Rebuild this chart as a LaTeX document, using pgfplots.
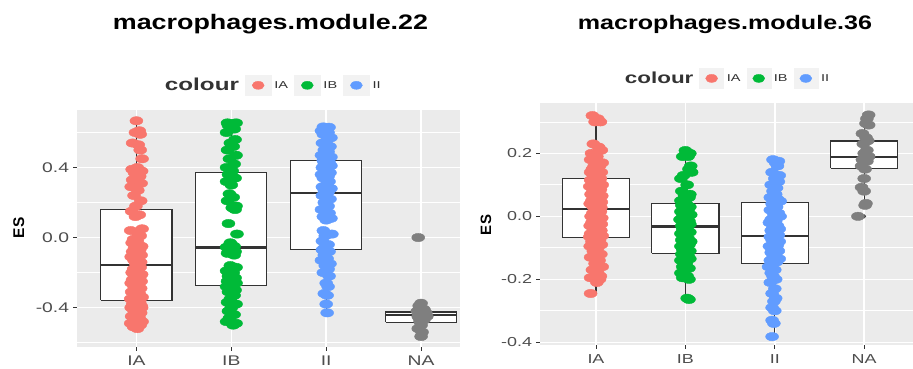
\documentclass[border=0pt]{standalone}
\usepackage{fontspec}
\setmainfont{Liberation Sans}
\newfontfamily\fT[FakeStretch=1.28]{Liberation Sans}
\newfontfamily\fK[FakeStretch=1.38]{Liberation Sans}
\newfontfamily\fL[FakeStretch=1.40]{Liberation Sans}
\newfontfamily\fS[FakeStretch=1.45]{Liberation Sans}
\usepackage{pgfplots}
\pgfplotsset{compat=1.18}
\definecolor{cIA}{HTML}{F8766D}
\definecolor{cIB}{HTML}{00BA38}
\definecolor{cII}{HTML}{619CFF}
\definecolor{cNA}{HTML}{7F7F7F}
\definecolor{cPanel}{HTML}{EBEBEB}
\definecolor{cBox}{HTML}{333333}
\definecolor{cTickT}{HTML}{4D4D4D}
\definecolor{cKey}{HTML}{F2F2F2}
\pgfplotsset{
  gg/.style={scale only axis, axis background/.style={fill=cPanel},
    axis line style={draw=none}, tick align=outside, tick pos=left,
    major tick length=3.7bp, minor tick length=0pt,
    tick style={draw=cBox, line width=0.9bp},
    xmajorgrids, ymajorgrids, yminorgrids,
    major grid style={draw=white, line width=1.5bp},
    minor grid style={draw=white, line width=0.75bp},
    xtick={1,2,3,4}, xticklabels={IA,IB,II,NA},
    tick label style={text=cTickT, inner sep=0pt},
    xticklabel shift=5.2bp, yticklabel shift=4bp,
    legend columns=4,
    legend style={draw=none, fill=none, inner sep=0pt, outer sep=0pt, anchor=west,
      nodes={inner sep=0pt, text=cBox},
      /tikz/every odd column/.append style={column sep=3bp},
      /tikz/every even column/.append style={column sep=6bp}}},
  wsk/.style={forget plot, draw=cBox, line width=1.2bp, mark=none},
  bx/.style={forget plot, draw=cBox, fill=white, line width=1.2bp, mark=none},
  med/.style={forget plot, draw=cBox, line width=2.2bp, mark=none},
  outl/.style={forget plot, only marks, mark=*, mark size=1.7bp, color=cBox},
  pts/.style={only marks, mark=*, mark size=4.2bp, color=#1,
    mark options={xscale=1.55, draw=#1, fill=#1}},
  lkey/.style 2 args={legend image code/.code={
    \fill[cKey] (0bp,-10bp) rectangle ({2*#2},10bp);
    \fill[#1] (#2,0bp) ellipse [x radius=6bp, y radius=4bp];}},
}
\begin{document}
\begin{tikzpicture}
\useasboundingbox (0,0) rectangle (913bp,369bp);
% ---------------- left panel ----------------
\begin{axis}[gg, at={(77bp,22bp)}, anchor=south west,
  width=383bp, height=236.7bp,
  xmin=0.374, xmax=4.41, ymin=-0.625, ymax=0.727,
  ytick={-0.4,0,0.4}, yticklabels={-0.4,0.0,0.4},
  minor ytick={-0.6,-0.2,0.2,0.6},
  tick label style={font=\fK\fontsize{14bp}{16bp}\selectfont},
  legend style={at={(0.2219,1.1055)}, font=\fS\fontsize{10bp}{12bp}\selectfont}]
\addlegendimage{empty legend}
\addlegendentry{{\fL\bfseries\fontsize{17.3bp}{20bp}\selectfont colour}\hspace{6bp}}
% boxplots: whisker, box, median
\addplot[wsk] coordinates {(1,-0.52) (1,0.666)};
\addplot[bx] coordinates {(0.625,-0.358) (1.375,-0.358) (1.375,0.16) (0.625,0.16) (0.625,-0.358)};
\addplot[med] coordinates {(0.625,-0.158) (1.375,-0.158)};
\addplot[wsk] coordinates {(2,-0.50) (2,0.655)};
\addplot[bx] coordinates {(1.625,-0.274) (2.375,-0.274) (2.375,0.371) (1.625,0.371) (1.625,-0.274)};
\addplot[med] coordinates {(1.625,-0.057) (2.375,-0.057)};
\addplot[wsk] coordinates {(3,-0.431) (3,0.632)};
\addplot[bx] coordinates {(2.625,-0.069) (3.375,-0.069) (3.375,0.438) (2.625,0.438) (2.625,-0.069)};
\addplot[med] coordinates {(2.625,0.255) (3.375,0.255)};
\addplot[wsk] coordinates {(4,-0.565) (4,-0.375)};
\addplot[bx] coordinates {(3.625,-0.484) (4.375,-0.484) (4.375,-0.425) (3.625,-0.425) (3.625,-0.484)};
\addplot[med] coordinates {(3.625,-0.44) (4.375,-0.44)};
\addplot[outl] coordinates {(4,0.0)};
\addplot[pts=cIA, lkey={cIA}{13bp}] table {
x y
1.00 0.667
1.03 0.61
0.99 0.60
1.04 0.59
0.96 0.54
1.02 0.53
1.04 0.50
1.06 0.45
1.01 0.40
0.955 0.39
1.055 0.38
0.98 0.37
1.035 0.35
0.96 0.33
1.05 0.31
0.945 0.29
1.015 0.27
0.975 0.24
1.045 0.21
0.995 0.18
0.95 0.15
1.03 0.13
0.99 0.12
1.06 0.05
0.94 0.04
1.02 0.02
1.04 0.01
0.97 -0.01
1.01 -0.02
0.955 -0.03
1.055 -0.05
0.98 -0.06
1.035 -0.07
0.96 -0.08
1.05 -0.10
0.945 -0.11
1.015 -0.12
0.975 -0.13
1.045 -0.14
0.995 -0.15
1.02 -0.16
1.04 -0.17
0.97 -0.18
1.01 -0.19
0.955 -0.20
1.055 -0.21
0.98 -0.22
1.035 -0.23
0.96 -0.24
1.05 -0.25
0.945 -0.26
1.015 -0.27
0.975 -0.28
1.045 -0.29
0.995 -0.30
0.95 -0.31
1.03 -0.32
0.99 -0.33
1.06 -0.34
0.94 -0.35
0.98 -0.36
1.035 -0.37
0.96 -0.38
1.05 -0.39
0.945 -0.40
1.015 -0.41
0.975 -0.42
1.045 -0.43
0.995 -0.44
0.95 -0.45
1.03 -0.46
0.99 -0.47
1.06 -0.48
0.94 -0.49
1.02 -0.50
1.04 -0.50
0.97 -0.51
1.01 -0.52
0.955 -0.45
1.055 -0.40
};
\addlegendentry{IA}
\addplot[pts=cIB, lkey={cIB}{13bp}] table {
x y
1.96 0.655
2.05 0.655
2.01 0.65
1.97 0.64
2.03 0.62
1.95 0.60
2.04 0.56
1.99 0.54
2.02 0.52
1.96 0.50
2.05 0.47
1.98 0.45
2.03 0.42
1.95 0.40
2.01 0.38
1.97 0.36
2.04 0.34
1.95 0.32
2.00 0.30
1.98 0.25
2.02 0.23
1.96 0.21
2.05 0.18
2.01 0.17
2.04 0.16
1.97 0.08
2.06 0.02
1.99 -0.03
2.03 -0.05
1.95 -0.055
1.98 -0.06
2.04 -0.08
1.96 -0.09
2.03 -0.10
1.99 -0.16
2.05 -0.17
1.95 -0.19
2.02 -0.20
1.97 -0.22
2.04 -0.23
2.00 -0.24
1.96 -0.25
2.05 -0.26
1.98 -0.27
2.02 -0.27
1.95 -0.28
2.01 -0.29
2.04 -0.30
1.97 -0.31
2.03 -0.33
1.99 -0.35
1.96 -0.37
2.05 -0.38
2.00 -0.40
1.97 -0.42
2.03 -0.44
1.98 -0.46
1.95 -0.48
2.05 -0.49
2.02 -0.50
};
\addlegendentry{IB}
\addplot[pts=cII, lkey={cII}{13bp}] table {
x y
2.97 0.632
3.03 0.63
2.99 0.62
2.95 0.61
3.02 0.60
2.97 0.59
3.05 0.57
3.00 0.55
2.96 0.54
3.04 0.52
2.98 0.50
3.02 0.49
2.95 0.47
3.05 0.46
3.00 0.45
2.97 0.44
3.03 0.43
2.98 0.42
3.05 0.41
2.96 0.40
3.01 0.39
2.99 0.38
3.04 0.37
2.95 0.36
3.02 0.35
2.97 0.34
3.03 0.32
3.00 0.30
2.96 0.29
3.05 0.28
2.98 0.27
3.02 0.26
3.00 0.25
2.96 0.24
3.04 0.22
2.98 0.20
3.02 0.18
2.95 0.16
3.03 0.14
2.97 0.12
3.05 0.11
3.00 0.10
2.97 0.04
3.06 0.02
2.99 0.01
2.96 -0.02
3.02 -0.04
2.98 -0.06
2.96 -0.07
3.03 -0.08
2.98 -0.10
3.01 -0.12
2.95 -0.13
3.04 -0.15
2.99 -0.16
3.02 -0.18
2.97 -0.20
3.03 -0.22
3.00 -0.26
3.02 -0.28
2.98 -0.32
3.01 -0.33
3.00 -0.38
3.01 -0.43
};
\addlegendentry{II}
\addplot[pts=cNA, forget plot] table {
x y
3.97 0.0
4.00 -0.375
3.98 -0.39
4.03 -0.41
3.96 -0.42
4.02 -0.43
4.05 -0.43
3.99 -0.44
4.04 -0.44
3.97 -0.45
4.06 -0.45
4.01 -0.46
3.98 -0.46
4.03 -0.47
3.99 -0.48
4.00 -0.50
3.97 -0.52
4.01 -0.54
4.00 -0.565
};
\end{axis}
% ---------------- right panel ----------------
\begin{axis}[gg, at={(540bp,24bp)}, anchor=south west,
  width=373bp, height=241.7bp,
  xmin=0.374, xmax=4.546, ymin=-0.4086, ymax=0.359,
  ytick={-0.4,-0.2,0,0.2}, yticklabels={-0.4,-0.2,0.0,0.2},
  minor ytick={-0.3,-0.1,0.1,0.3},
  tick label style={font=\fK\fontsize{13bp}{15bp}\selectfont},
  legend style={at={(0.2198,1.103)}, font=\fS\fontsize{10bp}{12bp}\selectfont}]
\addlegendimage{empty legend}
\addlegendentry{{\fL\bfseries\fontsize{16bp}{19bp}\selectfont colour}\hspace{3.5bp}}
\addplot[wsk] coordinates {(1,-0.245) (1,0.32)};
\addplot[bx] coordinates {(0.625,-0.066) (1.375,-0.066) (1.375,0.119) (0.625,0.119) (0.625,-0.066)};
\addplot[med] coordinates {(0.625,0.024) (1.375,0.024)};
\addplot[wsk] coordinates {(2,-0.264) (2,0.209)};
\addplot[bx] coordinates {(1.625,-0.118) (2.375,-0.118) (2.375,0.042) (1.625,0.042) (1.625,-0.118)};
\addplot[med] coordinates {(1.625,-0.032) (2.375,-0.032)};
\addplot[wsk] coordinates {(3,-0.382) (3,0.18)};
\addplot[bx] coordinates {(2.625,-0.15) (3.375,-0.15) (3.375,0.045) (2.625,0.045) (2.625,-0.15)};
\addplot[med] coordinates {(2.625,-0.063) (3.375,-0.063)};
\addplot[wsk] coordinates {(4,0.035) (4,0.322)};
\addplot[bx] coordinates {(3.625,0.153) (4.375,0.153) (4.375,0.239) (3.625,0.239) (3.625,0.153)};
\addplot[med] coordinates {(3.625,0.188) (4.375,0.188)};
\addplot[outl] coordinates {(4,0.0)};
\addplot[pts=cIA, lkey={cIA}{12bp}] table {
x y
0.96 0.32
1.02 0.31
0.99 0.30
1.05 0.30
0.97 0.23
1.03 0.22
1.06 0.21
0.95 0.20
1.01 0.19
0.94 0.18
1.07 0.17
0.98 0.16
1.04 0.16
0.96 0.15
1.06 0.14
0.94 0.14
1.02 0.13
0.97 0.13
1.05 0.12
0.995 0.12
0.94 0.115
1.035 0.11
0.99 0.105
1.07 0.10
0.93 0.095
1.02 0.09
1.05 0.085
0.965 0.08
1.01 0.075
0.945 0.07
1.065 0.065
0.975 0.06
1.04 0.055
0.955 0.05
1.06 0.045
0.935 0.04
1.02 0.035
0.97 0.03
1.055 0.028
0.995 0.025
1.02 0.02
1.05 0.015
0.965 0.01
1.01 0.005
0.945 0.0
1.065 -0.005
0.975 -0.01
1.04 -0.015
0.955 -0.02
1.06 -0.025
0.935 -0.03
1.02 -0.035
0.97 -0.04
1.055 -0.045
0.995 -0.05
0.94 -0.055
1.035 -0.058
0.99 -0.06
1.07 -0.062
0.93 -0.065
0.975 -0.07
1.04 -0.075
0.955 -0.08
1.06 -0.09
0.935 -0.095
1.02 -0.10
0.97 -0.11
1.055 -0.12
0.995 -0.125
0.94 -0.13
1.035 -0.14
0.99 -0.15
1.07 -0.16
0.96 -0.17
1.02 -0.18
1.05 -0.19
0.94 -0.195
1.04 -0.20
1.01 -0.21
0.94 -0.245
};
\addlegendentry{IA}
\addplot[pts=cIB, lkey={cIB}{12bp}] table {
x y
2.00 0.209
2.05 0.20
1.97 0.19
2.03 0.19
2.06 0.16
2.04 0.15
2.07 0.14
1.98 0.13
1.95 0.12
2.02 0.10
1.96 0.08
2.05 0.07
1.99 0.065
2.04 0.06
1.95 0.05
2.01 0.04
1.96 0.035
2.05 0.03
1.98 0.025
2.03 0.02
1.95 0.015
2.00 0.01
2.06 0.005
1.97 0.0
2.02 -0.005
1.94 -0.01
2.04 -0.015
1.99 -0.02
2.05 -0.025
1.96 -0.03
2.02 -0.035
1.97 -0.04
2.05 -0.05
1.95 -0.055
2.00 -0.06
2.03 -0.07
1.96 -0.075
2.06 -0.08
1.99 -0.085
2.04 -0.09
1.95 -0.095
2.02 -0.10
1.97 -0.105
2.05 -0.11
2.00 -0.115
1.96 -0.12
2.03 -0.125
1.98 -0.13
2.05 -0.135
1.95 -0.14
2.01 -0.15
1.97 -0.16
2.04 -0.165
1.99 -0.17
1.95 -0.18
2.02 -0.19
1.97 -0.195
2.04 -0.20
2.02 -0.26
2.04 -0.264
};
\addlegendentry{IB}
\addplot[pts=cII, lkey={cII}{12bp}] table {
x y
2.98 0.18
3.04 0.175
3.01 0.17
3.03 0.16
2.97 0.14
3.05 0.13
3.00 0.12
3.04 0.11
2.96 0.10
3.02 0.09
2.98 0.08
3.01 0.07
2.95 0.06
3.03 0.055
2.99 0.05
3.06 0.048
2.97 0.04
3.02 0.03
2.95 0.02
3.04 0.01
2.99 0.005
3.06 0.0
2.96 -0.01
3.01 -0.015
2.94 -0.02
3.03 -0.03
2.98 -0.035
3.05 -0.04
2.96 -0.045
3.02 -0.05
2.99 -0.055
3.04 -0.06
2.95 -0.065
3.01 -0.07
2.97 -0.075
3.05 -0.08
2.99 -0.085
3.03 -0.09
2.94 -0.095
3.02 -0.10
2.97 -0.105
3.04 -0.11
2.96 -0.115
3.01 -0.12
2.98 -0.13
3.05 -0.135
2.95 -0.14
3.02 -0.145
2.97 -0.155
2.93 -0.16
3.00 -0.17
2.96 -0.18
2.98 -0.19
3.01 -0.20
2.95 -0.21
3.00 -0.23
2.97 -0.245
3.01 -0.26
2.99 -0.27
2.97 -0.29
3.00 -0.30
2.97 -0.33
2.99 -0.34
2.97 -0.382
};
\addlegendentry{II}
\addplot[pts=cNA, forget plot] table {
x y
4.05 0.322
4.03 0.31
4.02 0.295
4.05 0.29
3.98 0.263
4.02 0.25
4.04 0.24
3.99 0.23
4.03 0.21
4.00 0.20
4.05 0.19
3.98 0.18
4.03 0.175
3.97 0.16
4.01 0.15
4.00 0.12
3.97 0.092
4.00 0.08
4.02 0.041
4.01 0.035
3.93 0.0
};
\end{axis}
% ---------------- titles and axis labels ----------------
\node[anchor=base] at (270.5bp,339bp) {\fT\bfseries\fontsize{21bp}{24bp}\selectfont macrophages.module.22};
\node[anchor=base] at (725bp,339.5bp) {\fT\bfseries\fontsize{19.6bp}{23bp}\selectfont macrophages.module.36};
\node[rotate=90, inner sep=0pt] at (18.7bp,141bp) {\bfseries\fontsize{15.5bp}{18bp}\selectfont ES};
\node[rotate=90, inner sep=0pt] at (486bp,144bp) {\bfseries\fontsize{15bp}{18bp}\selectfont ES};
\end{tikzpicture}
\end{document}
